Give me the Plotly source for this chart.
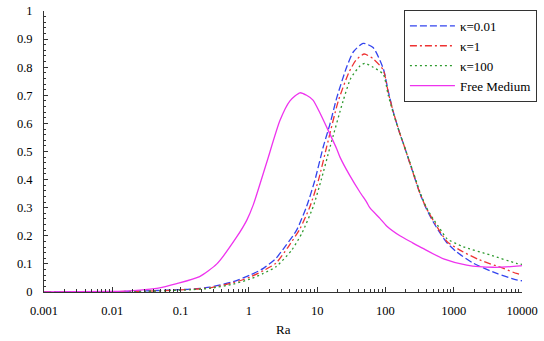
import plotly.graph_objects as go

# ---- data ----
ra_k001 = [0.001, 0.01, 0.0316, 0.069, 0.138, 0.27, 0.59, 1.04, 1.63, 2.5, 3.37, 5.0, 7.0, 9.3,
           12.3, 15.5, 19.3, 27, 34, 47, 66, 93, 110, 129, 162, 182, 257, 320, 400, 500,
           630, 795, 1100, 1950, 4270, 8300, 10000]
v_k001 = [0.0, 0.001, 0.004, 0.007, 0.010, 0.017, 0.037, 0.060, 0.084, 0.12, 0.161, 0.22, 0.304, 0.399,
          0.517, 0.60, 0.69, 0.80, 0.855, 0.885, 0.87, 0.795, 0.715, 0.645, 0.565, 0.53, 0.42, 0.351, 0.295, 0.25,
          0.21, 0.175, 0.143, 0.102, 0.066, 0.043, 0.040]

ra_k1 = [0.001, 0.01, 0.03, 0.07, 0.14, 0.27, 0.59, 1.04, 1.63, 2.5, 3.78, 5.6, 7.85, 10.5,
         13.8, 20.4, 29, 37, 49, 66, 93, 110, 129, 162, 182, 257, 320, 400, 500, 630, 795,
         1230, 2400, 5370, 8300, 10000]
v_k1 = [0.0, 0.001, 0.003, 0.006, 0.009, 0.015, 0.033, 0.053, 0.076, 0.103, 0.161, 0.225, 0.304, 0.40,
        0.517, 0.68, 0.78, 0.825, 0.847, 0.83, 0.79, 0.71, 0.645, 0.565, 0.53, 0.42, 0.351, 0.297, 0.255, 0.215, 0.18,
        0.149, 0.114, 0.084, 0.066, 0.062]

ra_k100 = [0.001, 0.01, 0.03, 0.07, 0.14, 0.27, 0.59, 1.04, 1.63, 2.5, 4.24, 6.0, 8.77, 11.5,
           15.5, 24, 31, 42.7, 50, 66, 93, 110, 129, 162, 182, 257, 320, 400, 500, 630, 795,
           1380, 3390, 8300, 10000]
v_k100 = [0.0, 0.001, 0.002, 0.005, 0.008, 0.013, 0.028, 0.046, 0.066, 0.09, 0.149, 0.21, 0.304, 0.40,
          0.517, 0.68, 0.76, 0.805, 0.814, 0.80, 0.775, 0.70, 0.64, 0.565, 0.53, 0.425, 0.356, 0.30, 0.26, 0.225, 0.19,
          0.161, 0.132, 0.102, 0.098]

ra_free = [0.001, 0.01, 0.018, 0.036, 0.045, 0.088, 0.19, 0.34, 0.66, 0.93, 1.16, 1.82, 2.85, 4.0,
           5.6, 7.0, 8.7, 11, 14.4, 19.3, 21.6, 30, 42.4, 53, 59, 83, 104, 163, 250, 355,
           710, 1550, 3800, 9300, 10000]
v_free = [0.0, 0.002, 0.004, 0.010, 0.013, 0.030, 0.055, 0.10, 0.195, 0.255, 0.31, 0.46, 0.61, 0.68,
          0.709, 0.70, 0.683, 0.637, 0.577, 0.51, 0.48, 0.415, 0.355, 0.32, 0.30, 0.262, 0.235, 0.20, 0.175, 0.155,
          0.118, 0.096, 0.088, 0.093, 0.094]

x_tickvals = [0.001, 0.01, 0.1, 1, 10, 100, 1000, 10000]
x_ticktext = ["0.001", "0.01", "0.1", "1", "10", "100", "1000", "10000"]
y_tickvals = [0, 0.1, 0.2, 0.3, 0.4, 0.5, 0.6, 0.7, 0.8, 0.9, 1]
y_ticktext = ["0", "0.1", "0.2", "0.3", "0.4", "0.5", "0.6", "0.7", "0.8", "0.9", "1"]

series = [
    ("κ=0.01", ra_k001, v_k001, "#3344ee", "7px,3px"),
    ("κ=1", ra_k1, v_k1, "#ee3333", "7px,3px,2px,3px"),
    ("κ=100", ra_k100, v_k100, "#2e9a2e", "2px,3px"),
    ("Free Medium", ra_free, v_free, "#ee33ee", "solid"),
]

FONT = "Liberation Serif, Times New Roman, serif"

fig = go.Figure()
for name, xs, ys, col, dash in series:
    fig.add_trace(go.Scatter(
        x=xs, y=ys, mode="lines", name=name,
        line=dict(color=col, width=1.3, dash=dash, shape="spline", smoothing=0.6),
    ))

fig.update_layout(
    width=544, height=341,
    margin=dict(l=44, r=22, t=11, b=49, autoexpand=False),
    paper_bgcolor="white", plot_bgcolor="white",
    font=dict(family=FONT, size=12.5, color="black"),
    showlegend=True,
    legend=dict(
        xref="container", yref="container",
        x=0.987, y=0.971, xanchor="right", yanchor="top",
        bgcolor="white", bordercolor="#333333", borderwidth=1,
        font=dict(family=FONT, size=13, color="black"),
        tracegroupgap=0, itemwidth=45,
    ),
    annotations=[dict(
        text="Ra", xref="paper", yref="paper", x=0.5, y=-0.135,
        xanchor="center", yanchor="middle", showarrow=False,
        font=dict(family=FONT, size=13, color="black"),
    )],
)

fig.update_xaxes(
    type="log", range=[-3, 4], automargin=False,
    tickvals=x_tickvals, ticktext=x_ticktext,
    ticks="inside", ticklen=5, tickcolor="#333333",
    showline=True, linecolor="#333333", linewidth=1,
    showgrid=False, zeroline=False,
    ticklabelstandoff=7,
    minor=dict(ticks="inside", ticklen=3, dtick="D1", tickcolor="#333333", showgrid=False),
)
fig.update_yaxes(
    range=[0, 1], automargin=False,
    tickvals=y_tickvals, ticktext=y_ticktext,
    ticks="inside", ticklen=4, tickcolor="#333333",
    showline=True, linecolor="#333333", linewidth=1,
    showgrid=False, zeroline=False,
    ticklabelstandoff=8,
    minor=dict(ticks="inside", ticklen=2, dtick=0.02, tickcolor="#333333", showgrid=False),
)

fig.write_html("out.html")
